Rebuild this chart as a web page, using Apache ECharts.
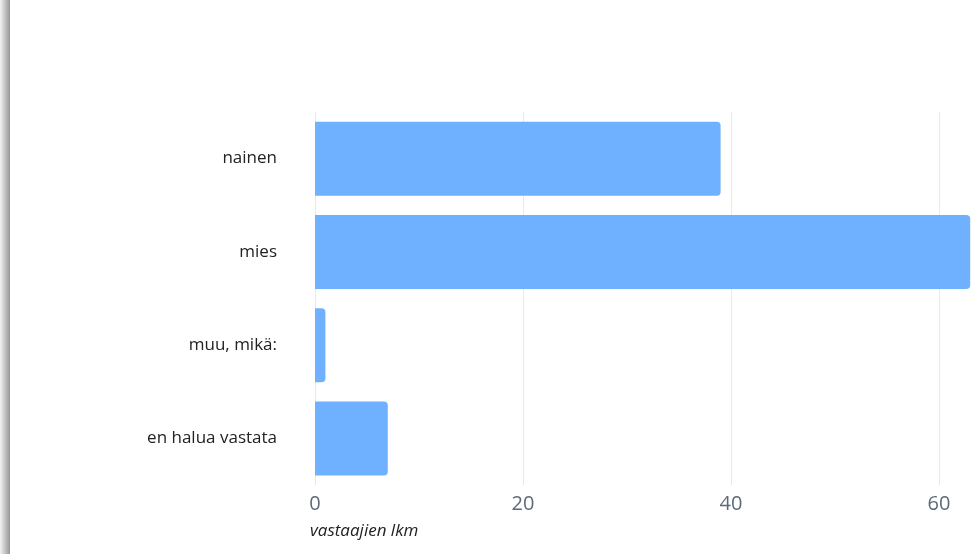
<!DOCTYPE html>
<html>
<head>
<meta charset="utf-8">
<script src="https://cdn.jsdelivr.net/npm/echarts@6/dist/echarts.min.js"></script>
<style>
  html, body { margin: 0; padding: 0; background: #fff; overflow: hidden; }
  #chart { width: 1200px; height: 554px; }
</style>
</head>
<body>
<div id="chart"></div>
<script>
// Vastaajat sukupuolen mukaan
const categories = ['nainen', 'mies', 'muu, mikä:', 'en halua vastata'];
const counts = [39, 63, 1, 7];
const axisName = 'vastaajien lkm';

const chart = echarts.init(document.getElementById('chart'), null, { renderer: 'canvas' });

chart.setOption({
  animation: false,
  backgroundColor: '#ffffff',
  grid: { left: 315, top: 112, width: 832, height: 373, containLabel: false },
  graphic: [{
    type: 'rect',
    left: 0, top: 0,
    shape: { width: 10, height: 554 },
    style: {
      fill: new echarts.graphic.LinearGradient(0, 0, 1, 0, [
        { offset: 0, color: '#f2f2f2' },
        { offset: 1, color: '#969696' }
      ])
    },
    silent: true
  }],
  xAxis: {
    type: 'value',
    min: 0, max: 80, interval: 20,
    axisLine: { show: false },
    axisTick: { show: false },
    splitLine: { show: true, lineStyle: { color: '#e6eaee', width: 1 } },
    axisLabel: {
      margin: 9,
      color: '#5b6b7b',
      fontSize: 20,
      fontFamily: 'Open Sans'
    },
    name: axisName,
    nameLocation: 'start',
    nameGap: 0,
    nameTextStyle: {
      align: 'left',
      verticalAlign: 'top',
      padding: [38, 0, 0, -5],
      fontFamily: 'Open Sans',
      fontStyle: 'italic',
      fontSize: 17,
      color: '#222222'
    }
  },
  yAxis: {
    type: 'category',
    data: categories,
    inverse: true,
    axisLine: { show: false },
    axisTick: { show: false },
    splitLine: { show: false },
    axisLabel: {
      margin: 38,
      color: '#222222',
      fontSize: 17,
      fontFamily: 'Open Sans'
    }
  },
  series: [{
    type: 'bar',
    data: counts,
    barWidth: 74,
    itemStyle: { color: '#6fb1ff', borderRadius: [0, 4, 4, 0] }
  }]
});
</script>
</body>
</html>
